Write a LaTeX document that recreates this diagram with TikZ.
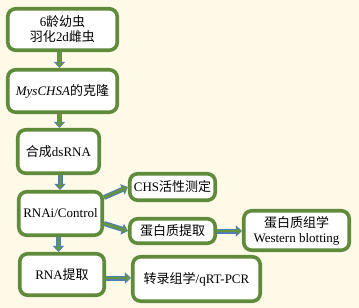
\documentclass[tikz,border=0pt]{standalone}
\usepackage{fontspec}
\setmainfont{Liberation Serif}
\newfontfamily\cjkfont{Noto Sans CJK SC}
\newcommand\zh[1]{{\cjkfont #1}}
\usetikzlibrary{arrows.meta}
\definecolor{bg}{HTML}{FFF9E8}
\definecolor{boxgreen}{HTML}{5F8B3B}
\definecolor{arrblue}{HTML}{4F7FB5}
\definecolor{arrgreen}{HTML}{66953C}
\tikzset{
  box/.style={draw=boxgreen, line width=3.6pt, fill=white, rounded corners=8pt,
    align=center, inner sep=2pt, font=\fontsize{13}{15}\selectfont},
  arr/.style={draw=arrblue, line width=5pt, -{Triangle[length=6pt,width=11pt]},
    postaction={draw=arrgreen, line width=2.6pt, -{Triangle[length=4pt,width=7pt]}, shorten >=1.2pt}}
}
\begin{document}
\begin{tikzpicture}[x=1pt,y=-1pt]
\fill[bg] (0,0) rectangle (359,308);
\useasboundingbox (0,0) rectangle (359,308);
\node[box, minimum width=109.5pt, minimum height=41.5pt] (b1) at (62.5,29.5) {6\zh{龄幼虫}\\\zh{羽化}2d\zh{雌虫}};
\node[box, minimum width=109.5pt, minimum height=42.5pt] (b2) at (62.5,91) {\textit{MysCHSA}\zh{的克隆}};
\node[box, minimum width=81.5pt, minimum height=43.5pt] (b3) at (58.5,151.5) {\zh{合成}dsRNA};
\node[box, minimum width=83.5pt, minimum height=43.5pt] (b4) at (60.5,213.5) {RNAi/Control};
\node[box, minimum width=84.5pt, minimum height=41.5pt] (b5) at (62,274.5) {RNA\zh{提取}};
\node[box, minimum width=85.5pt, minimum height=26.5pt] (chs) at (172.5,187) {CHS\zh{活性测定}};
\node[box, minimum width=85.5pt, minimum height=24.5pt] (pe) at (172.5,231) {\zh{蛋白质提取}};
\node[box, minimum width=105.5pt, minimum height=39.5pt] (pg) at (296.5,230.5) {\zh{蛋白质组学}\\Western blotting};
\node[box, minimum width=127.5pt, minimum height=44.5pt] (tr) at (196.5,279) {\zh{转录组学}/qRT-PCR};
\draw[arr] ([xshift=-3pt]b1.south) -- ([xshift=-3pt]b1.south |- b2.north);
\draw[arr] ([xshift=-3pt]b2.south) -- ([xshift=-3pt]b2.south |- b3.north);
\draw[arr] ([xshift=1.5pt]b3.south) -- ([xshift=1.5pt]b3.south |- b4.north);
\draw[arr] ([xshift=-2pt]b4.south) -- ([xshift=-2pt]b4.south |- b5.north);
\draw[arr] ([yshift=16pt]b4.east) -- (chs.west);
\draw[arr] ([yshift=-10pt]b4.east) -- (pe.west);
\draw[arr] (pe.east) -- (pe.east -| pg.west);
\draw[arr] ([yshift=-3.5pt]b5.east) -- ([yshift=-3.5pt]b5.east -| tr.west);
\end{tikzpicture}
\end{document}
